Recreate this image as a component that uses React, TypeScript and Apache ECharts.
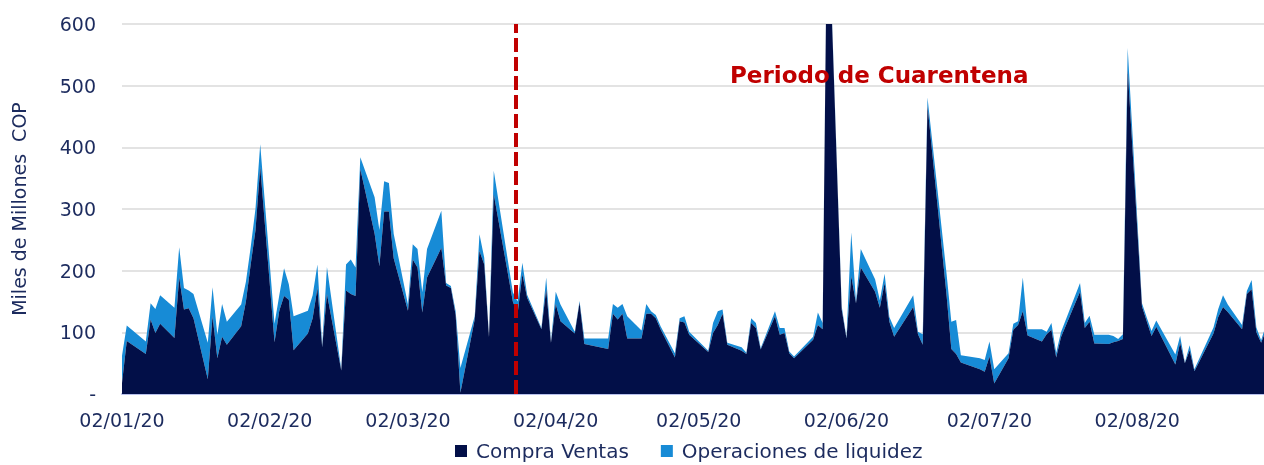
import React, { useEffect, useRef } from "react";
import * as echarts from "echarts";

const dates = [
  "2020-01-02","2020-01-03","2020-01-07","2020-01-08","2020-01-09","2020-01-10","2020-01-13","2020-01-14","2020-01-15","2020-01-16",
  "2020-01-17","2020-01-20","2020-01-21","2020-01-22","2020-01-23","2020-01-24","2020-01-27","2020-01-28","2020-01-29","2020-01-30",
  "2020-01-31","2020-02-03","2020-02-04","2020-02-05","2020-02-06","2020-02-07","2020-02-10","2020-02-11","2020-02-12","2020-02-13",
  "2020-02-14","2020-02-17","2020-02-18","2020-02-19","2020-02-20","2020-02-21","2020-02-24","2020-02-25","2020-02-26","2020-02-27",
  "2020-02-28","2020-03-02","2020-03-03","2020-03-04","2020-03-05","2020-03-06","2020-03-09","2020-03-10","2020-03-11","2020-03-12",
  "2020-03-13","2020-03-16","2020-03-17","2020-03-18","2020-03-19","2020-03-20","2020-03-24","2020-03-25","2020-03-26","2020-03-27",
  "2020-03-30","2020-03-31","2020-04-01","2020-04-02","2020-04-03","2020-04-06","2020-04-07","2020-04-08","2020-04-13","2020-04-14",
  "2020-04-15","2020-04-16","2020-04-17","2020-04-20","2020-04-21","2020-04-22","2020-04-23","2020-04-24","2020-04-27","2020-04-28",
  "2020-04-29","2020-04-30","2020-05-04","2020-05-05","2020-05-06","2020-05-07","2020-05-08","2020-05-11","2020-05-12","2020-05-13",
  "2020-05-14","2020-05-15","2020-05-18","2020-05-19","2020-05-20","2020-05-21","2020-05-22","2020-05-26","2020-05-27","2020-05-28",
  "2020-05-29","2020-06-01","2020-06-02","2020-06-03","2020-06-04","2020-06-05","2020-06-08","2020-06-09","2020-06-10","2020-06-11",
  "2020-06-12","2020-06-16","2020-06-17","2020-06-18","2020-06-19","2020-06-23","2020-06-24","2020-06-25","2020-06-26","2020-06-30",
  "2020-07-01","2020-07-02","2020-07-03","2020-07-06","2020-07-07","2020-07-08","2020-07-09","2020-07-10","2020-07-13","2020-07-14",
  "2020-07-15","2020-07-16","2020-07-17","2020-07-21","2020-07-22","2020-07-23","2020-07-24","2020-07-27","2020-07-28","2020-07-29",
  "2020-07-30","2020-07-31","2020-08-03","2020-08-04","2020-08-05","2020-08-06","2020-08-10","2020-08-11","2020-08-12","2020-08-13",
  "2020-08-14","2020-08-18","2020-08-19","2020-08-20","2020-08-21","2020-08-24","2020-08-25","2020-08-26","2020-08-27","2020-08-28",
  "2020-08-31",
];

const compraVentas = [
  18, 86, 65, 121, 99, 114, 91, 189, 137, 139,
  123, 24, 126, 58, 93, 80, 110, 150, 210, 265,
  368, 84, 135, 159, 153, 71, 98, 123, 172, 76,
  162, 38, 168, 162, 159, 365, 260, 207, 296, 296,
  220, 135, 218, 205, 132, 189, 237, 176, 172, 128,
  2, 121, 232, 210, 92, 324, 150, 130, 194, 156,
  105, 170, 83, 146, 118, 98, 148, 81, 73, 130,
  121, 130, 90, 90, 130, 130, 123, 105, 59, 118,
  116, 96, 68, 99, 112, 130, 80, 70, 65, 115,
  107, 72, 126, 96, 99, 66, 58, 88, 112, 105,
  825, 137, 90, 191, 147, 205, 166, 140, 180, 117,
  93, 141, 97, 80, 467, 160, 73, 65, 51, 40,
  36, 61, 17, 58, 104, 112, 134, 95, 85, 97,
  104, 59, 92, 166, 107, 117, 82, 81, 84, 86,
  89, 526, 142, 118, 94, 109, 48, 83, 50, 71,
  37, 98, 125, 141, 133, 105, 162, 170, 100, 83,
  145,
];

const operacionesLiquidez = [
  44, 25, 20, 26, 39, 46, 49, 49, 35, 29,
  39, 59, 47, 38, 53, 37, 35, 32, 28, 35,
  37, 30, 25, 45, 25, 55, 37, 37, 38, 3,
  44, 2, 42, 56, 46, 19, 59, 59, 49, 46,
  40, 10, 25, 30, 33, 46, 60, 4, 3, 6,
  40, 5, 27, 11, 2, 38, 15, 20, 19, 5,
  2, 19, 2, 20, 27, 3, 3, 9, 17, 16,
  19, 16, 36, 13, 16, 4, 5, 5, 7, 5,
  10, 5, 2, 16, 22, 7, 3, 6, 2, 8,
  8, 2, 8, 11, 8, 3, 3, 5, 20, 10,
  5, 5, 2, 71, 3, 30, 20, 12, 15, 8,
  14, 19, 4, 17, 14, 35, 44, 55, 12, 18,
  19, 24, 23, 8, 10, 6, 55, 10, 20, 4,
  11, 8, 8, 14, 8, 10, 14, 15, 10, 3,
  8, 35, 5, 6, 8, 10, 16, 11, 1, 8,
  3, 10, 13, 19, 12, 7, 5, 15, 8, 4,
  15,
];

const tickDates = ["2020-01-02","2020-02-02","2020-03-02","2020-04-02","2020-05-02","2020-06-02","2020-07-02","2020-08-02"];
const yTicks = [0, 100, 200, 300, 400, 500, 600];
const quarantineStart = "2020-03-24T14:00:00Z";
const quarantineLabel = "Periodo de Cuarentena";
const seriesNames = ["Compra Ventas", "Operaciones de liquidez"];
const yAxisTitle = "Miles de Millones  COP";
const axisStart = "2020-01-02";
const visibleDays = 239.6;

const DAY = 86400000;
const ts = (s: string) => {
  const [y, m, d] = s.split("-").map(Number);
  return Date.UTC(y, m - 1, d);
};
const T0 = ts(axisStart);
const dayOf = (s: string) => (ts(s) - T0) / DAY;
const pad = (n: number) => (n < 10 ? "0" + n : "" + n);
const fmt = (dayNum: number) => {
  const d = new Date(T0 + Math.round(dayNum) * DAY);
  return `${pad(d.getUTCDate())}/${pad(d.getUTCMonth() + 1)}/${pad(d.getUTCFullYear() % 100)}`;
};

const NAVY = "#1C2B5E";
const DARK = "#020F48";
const LIGHT = "#178BD6";
const FONT = "DejaVu Sans";

export default function App() {
  const ref = useRef<HTMLDivElement>(null);
  useEffect(() => {
    if (!ref.current) return;
    const chart = echarts.init(ref.current, undefined, { renderer: "svg" });
    chart.setOption({
      animation: false,
      textStyle: { fontFamily: FONT },
      grid: { left: 122, right: 0, top: 24, bottom: 71, containLabel: false },
      legend: {
        data: seriesNames,
        left: 455,
        top: 441,
        padding: 0,
        icon: "rect",
        itemWidth: 12,
        itemHeight: 12,
        itemGap: 32,
        textStyle: { fontSize: 20, color: NAVY, fontFamily: FONT, padding: [0, 0, 0, 4] },
      },
      xAxis: {
        type: "value",
        min: 0,
        max: visibleDays,
        axisLine: { show: true, lineStyle: { color: "#B8C0EC", width: 2 } },
        axisTick: { show: false },
        splitLine: { show: false },
        axisLabel: {
          customValues: tickDates.map(dayOf),
          formatter: (v: number) => fmt(v),
          fontSize: 19,
          color: NAVY,
          margin: 16,
          fontFamily: FONT,
        },
      },
      yAxis: {
        type: "value",
        min: yTicks[0],
        max: yTicks[yTicks.length - 1],
        interval: 100,
        name: yAxisTitle,
        nameLocation: "middle",
        nameGap: 94,
        nameTextStyle: { fontSize: 19, color: NAVY, fontFamily: FONT },
        axisLine: { show: false },
        axisTick: { show: false },
        splitLine: { lineStyle: { color: "#E3E3E3", width: 2 } },
        axisLabel: {
          formatter: (v: number) => (v === 0 ? "-" : String(v)),
          fontSize: 19,
          color: NAVY,
          margin: 26,
          fontFamily: FONT,
        },
      },
      series: [
        {
          name: seriesNames[0],
          type: "line",
          stack: "total",
          symbol: "none",
          lineStyle: { width: 0 },
          areaStyle: { color: DARK, opacity: 1 },
          itemStyle: { color: DARK },
          encode: { x: 1, y: 0 },
          data: dates.map((d, i) => [compraVentas[i], dayOf(d)]),
          z: 3,
        },
        {
          name: seriesNames[1],
          type: "line",
          stack: "total",
          symbol: "none",
          lineStyle: { width: 0 },
          areaStyle: { color: LIGHT, opacity: 1 },
          itemStyle: { color: LIGHT },
          encode: { x: 1, y: 0 },
          data: dates.map((d, i) => [operacionesLiquidez[i], dayOf(d)]),
          z: 2,
          markLine: {
            silent: true,
            symbol: ["none", "none"],
            label: { show: false },
            lineStyle: { color: "#C00000", type: [14, 5], width: 4 },
            data: [{ xAxis: (Date.parse(quarantineStart) - T0) / DAY }],
          },
        },
      ],
      graphic: [
        {
          type: "text",
          left: 730,
          top: 63,
          style: {
            text: quarantineLabel,
            fill: "#C00000",
            font: `bold 23px "${FONT}"`,
          },
          z: 10,
        },
      ],
    });
    return () => chart.dispose();
  }, []);
  return (
    <div
      ref={ref}
      style={{ position: "fixed", left: 0, top: 0, width: 1264, height: 465 }}
    />
  );
}
